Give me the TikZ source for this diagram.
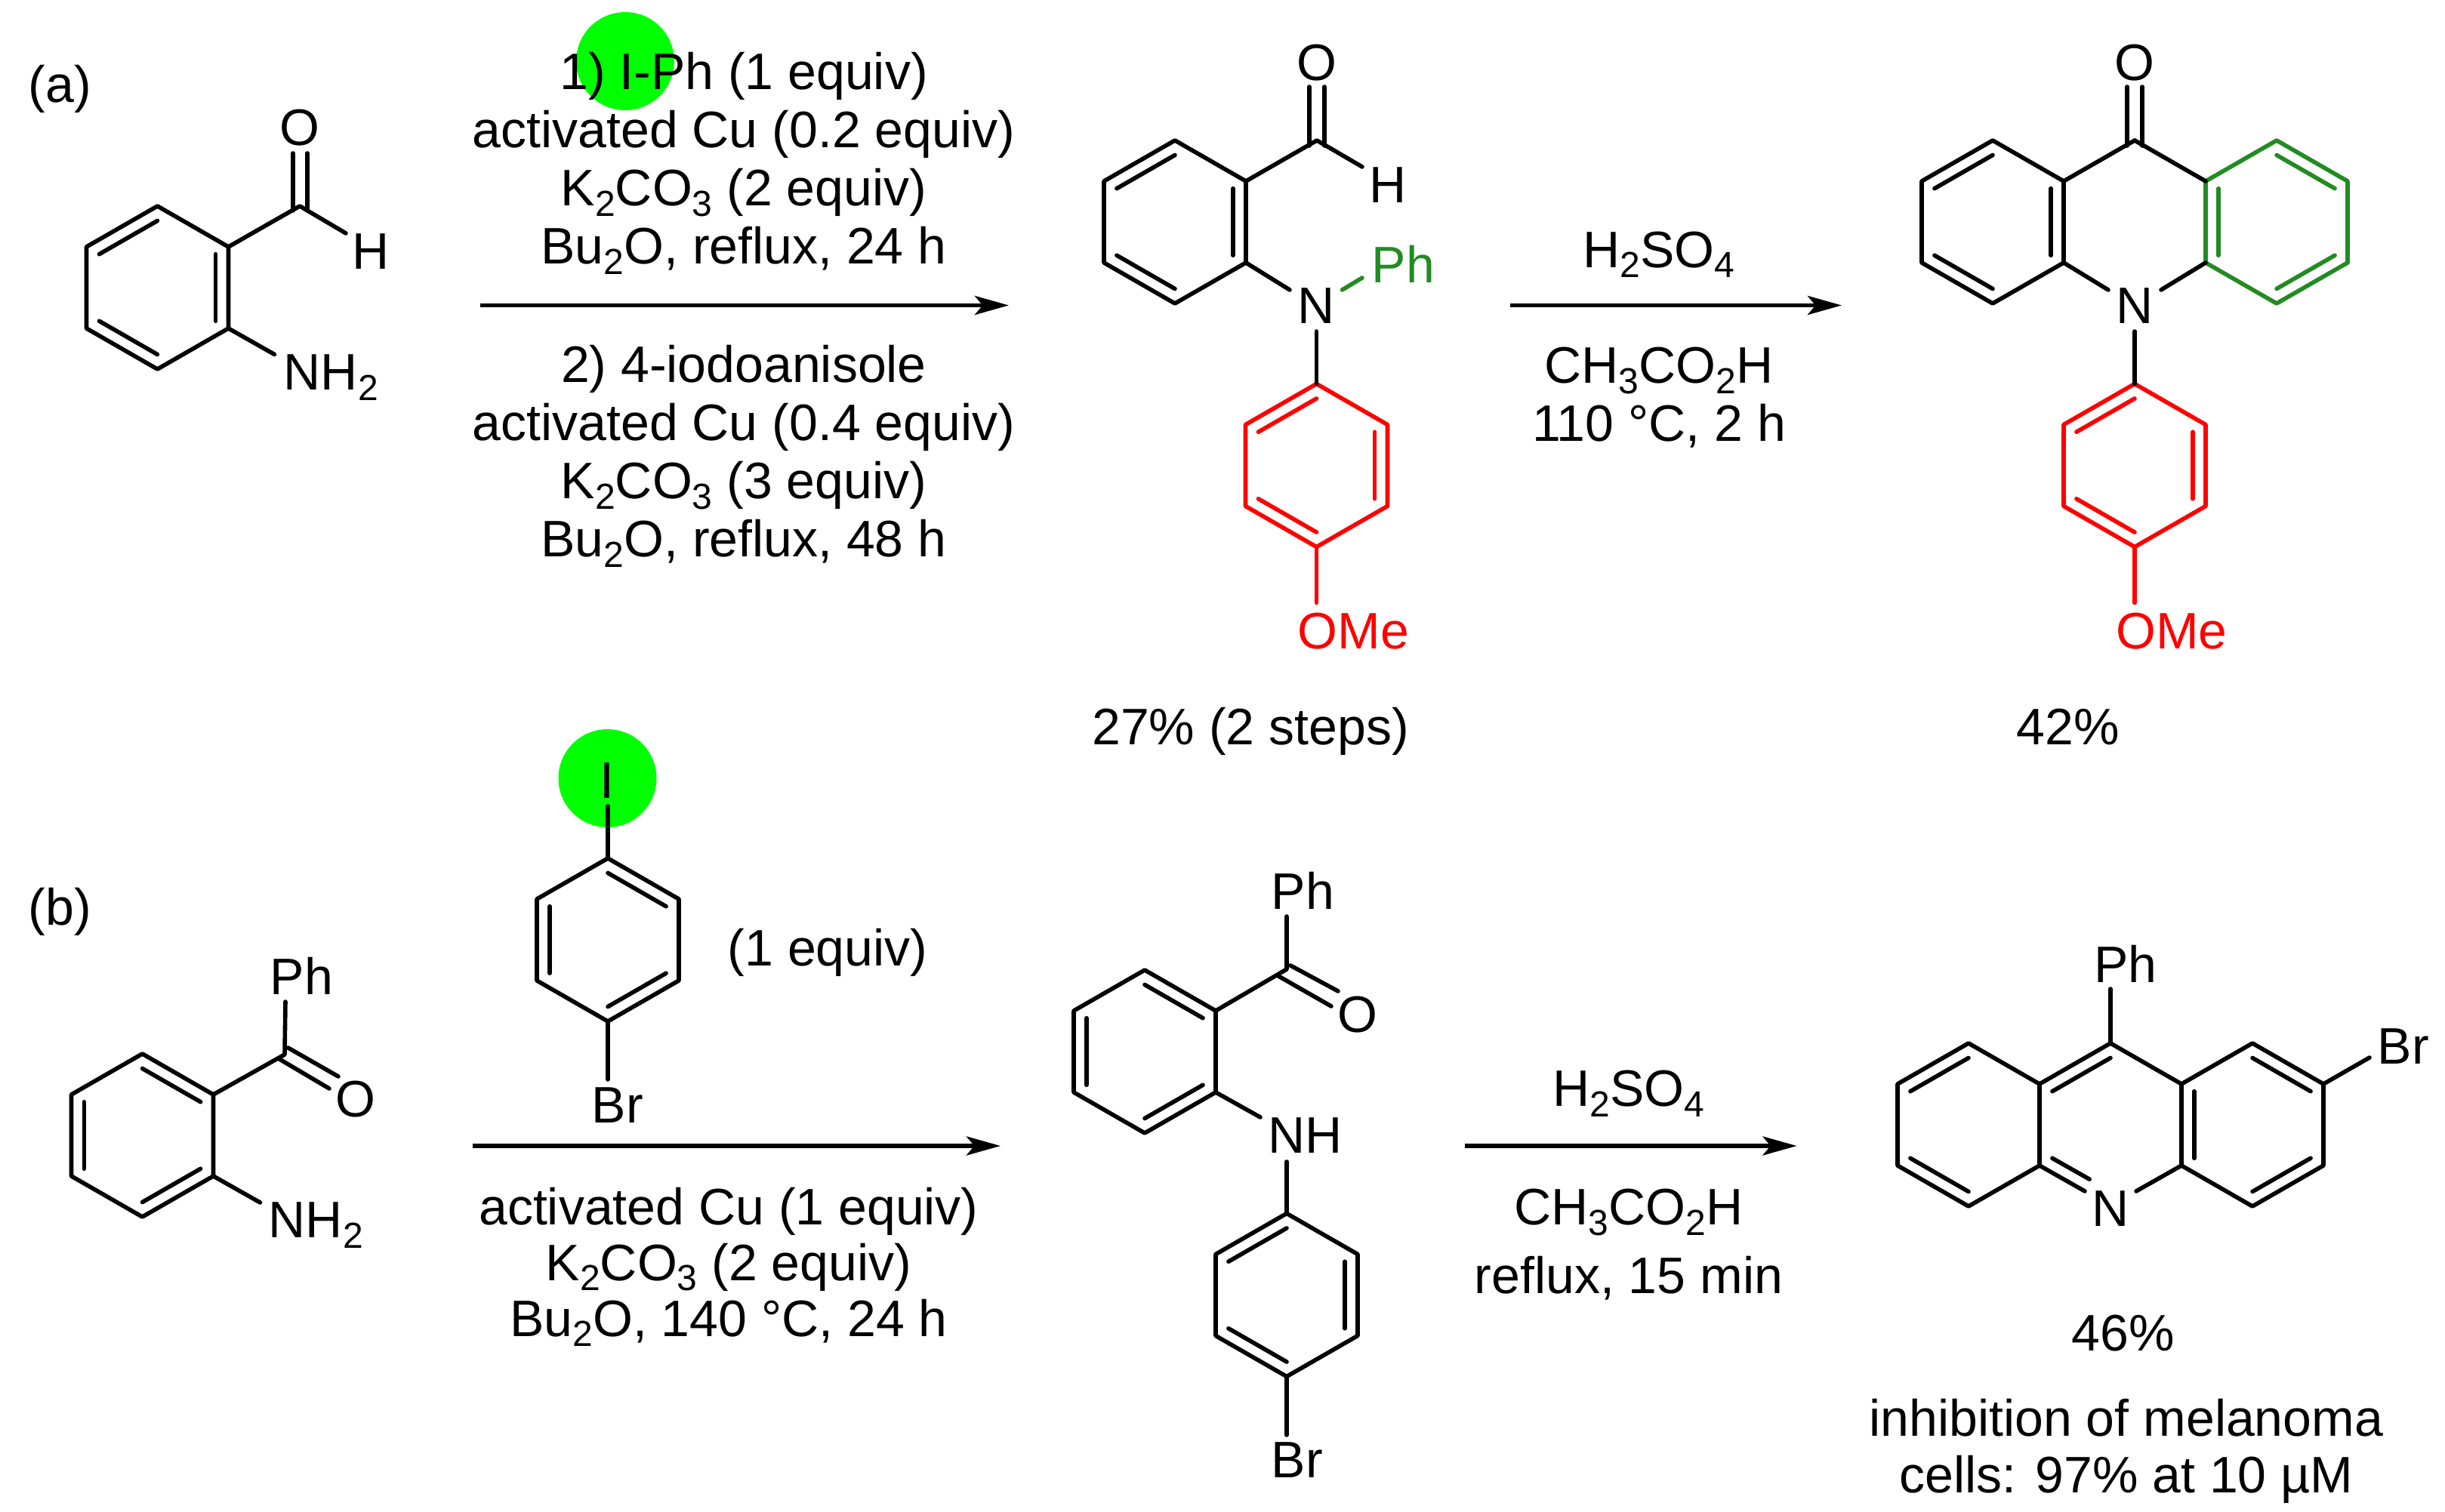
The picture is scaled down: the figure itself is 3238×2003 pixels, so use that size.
\documentclass[tikz,border=0pt]{standalone}
\usepackage{fontspec}
\setmainfont{Liberation Sans}
\usetikzlibrary{arrows.meta,calc}
\definecolor{hlgreen}{RGB}{0,255,0}
\definecolor{phgreen}{RGB}{34,139,34}
\newcommand{\subs}[1]{\raisebox{-3.4pt}{\fontsize{12}{12}\selectfont #1}}
% six ring corners: t ur lr b ll ul, o = centre
\newcommand{\hexring}[3]{%
  \coordinate (#1o) at (#2,#3);
  \coordinate (#1t) at (#2,{#3-108});
  \coordinate (#1ur) at ({#2+94},{#3-54});
  \coordinate (#1lr) at ({#2+94},{#3+54});
  \coordinate (#1b) at (#2,{#3+108});
  \coordinate (#1ll) at ({#2-94},{#3+54});
  \coordinate (#1ul) at ({#2-94},{#3-54});
  \draw[bond] (#1t) -- (#1ur) -- (#1lr) -- (#1b) -- (#1ll) -- (#1ul) -- cycle;
}
\newcommand{\dbl}[3]{\draw[bond] ($(#1)!0.18!(#3)$) -- ($(#2)!0.18!(#3)$);}
\tikzset{
  bond/.style={line width=1.4pt, line cap=round, line join=round},
  rxn/.style={line width=1.4pt, -{Stealth[length=11.25pt, width=6.25pt, inset=2.6pt]}},
  lbl/.style={inner sep=0pt, font=\fontsize{17}{19.25}\selectfont, anchor=base, yshift=-0.4pt},
  lblw/.style={lbl, anchor=base west},
  block/.style={lbl, anchor=north, align=center},
  spot/.style={fill=hlgreen, draw=none, circle, minimum size=32.5pt, inner sep=0pt},
}
\begin{document}
\begin{tikzpicture}[x=0.25pt, y=-0.25pt]
\useasboundingbox (0,0) rectangle (3238,2003);

% highlights
\node[spot] (spota) at (828,81) {};
\node[spot] (spotb) at (804.5,1031) {};

% (a) aminobenzaldehyde
\node[lblw] (laba) at (37,134) {(a)};
\hexring{sa}{208.5}{381}
\dbl{saul}{sat}{sao}
\dbl{saur}{salr}{sao}
\dbl{sall}{sab}{sao}
\coordinate (sac) at (397,273);
\coordinate (sah) at (458,309);
\coordinate (san) at (363.5,469.5);
\node[lbl] (sao1) at (397,191) {O};
\node[lbl] (sah1) at (491,355) {H};
\node[lblw] (san1) at (375,515) {NH\subs{2}};
\draw[bond] (saur) -- (sac) -- (sah);
\draw[bond] (388,203) -- (388,279);
\draw[bond] (407,203) -- (407,279);
\draw[bond] (salr) -- (san);

% (a) reagents
\node[block] (reaga) at (985,67) {1) I-Ph (1 equiv)\\activated Cu (0.2 equiv)\\K\subs{2}CO\subs{3} (2 equiv)\\Bu\subs{2}O, reflux, 24 h};
\node[block] (reagb) at (985,455) {2) 4-iodoanisole\\activated Cu (0.4 equiv)\\K\subs{2}CO\subs{3} (3 equiv)\\Bu\subs{2}O, reflux, 48 h};
\coordinate (arra1) at (636,404.5);
\coordinate (arra2) at (1336,404.5);
\draw[rxn] (arra1) -- (arra2);

% (a) N-aryl aldehyde
\hexring{pa}{1556}{294}
\dbl{paul}{pat}{pao}
\dbl{paur}{palr}{pao}
\dbl{pall}{pab}{pao}
\coordinate (pac) at (1744,186);
\coordinate (pah) at (1804,221);
\coordinate (pan1) at (1708,384);
\coordinate (pan2) at (1777.5,384);
\coordinate (pap) at (1804,368);
\coordinate (pan3) at (1743.5,439);
\node[lbl] (pao1) at (1743.5,105) {O};
\node[lbl] (pah1) at (1838.5,266.5) {H};
\node[lbl] (pan) at (1743.5,427) {N};
\node[lblw, text=phgreen] (paph) at (1816,373) {Ph};
\draw[bond] (paur) -- (pac) -- (pah);
\draw[bond] (1734,115) -- (1734,193);
\draw[bond] (1754,115) -- (1754,193);
\draw[bond] (palr) -- (pan1);
\draw[bond, phgreen] (pan2) -- (pap);
\begin{scope}[red]
\hexring{pr}{1743.5}{616.5}
\dbl{prul}{prt}{pro}
\dbl{prur}{prlr}{pro}
\dbl{prll}{prb}{pro}
\coordinate (prm) at (1743.5,798.5);
\draw[bond] (prb) -- (prm);
\node[lblw, text=red] (prome) at (1718,858) {OMe};
\end{scope}
\draw[bond] (pan3) -- (prt);

% (a) second step
\node[lbl] (acid1) at (2197,352.7) {H\subs{2}SO\subs{4}};
\node[block] (acid2) at (2197,458) {CH\subs{3}CO\subs{2}H\\110 °C, 2 h};
\coordinate (arrb1) at (2000,404.5);
\coordinate (arrb2) at (2439,404.5);
\draw[rxn] (arrb1) -- (arrb2);

% (a) acridone
\hexring{qa}{2639}{294}
\dbl{qaul}{qat}{qao}
\dbl{qaur}{qalr}{qao}
\dbl{qall}{qab}{qao}
\coordinate (qac) at (2827,186);
\coordinate (qan1) at (2792,384);
\coordinate (qan2) at (2862,384);
\coordinate (qan3) at (2827,439);
\node[lbl] (qao1) at (2827,105) {O};
\node[lbl] (qan) at (2827,427) {N};
\draw[bond] (qaur) -- (qac);
\draw[bond] (2817,115) -- (2817,193);
\draw[bond] (2837,115) -- (2837,193);
\draw[bond] (qalr) -- (qan1);
\begin{scope}[phgreen]
\hexring{qg}{3015}{294}
\dbl{qgul}{qgll}{qgo}
\dbl{qgt}{qgur}{qgo}
\dbl{qglr}{qgb}{qgo}
\end{scope}
\draw[bond] (qac) -- (qgul);
\draw[bond] (qan2) -- (qgll);
\begin{scope}[red]
\hexring{qr}{2827}{616.5}
\dbl{qrul}{qrt}{qro}
\dbl{qrur}{qrlr}{qro}
\dbl{qrll}{qrb}{qro}
\coordinate (qrm) at (2827,798.5);
\draw[bond] (qrb) -- (qrm);
\node[lblw, text=red] (qrome) at (2801.5,858) {OMe};
\end{scope}
\draw[bond] (qan3) -- (qrt);

% yields (a)
\node[lbl] (ylda) at (1656,985) {27\% (2 steps)};
\node[lbl] (yldb) at (2739,985) {42\%};

% (b) aminobenzophenone
\node[lblw] (labb) at (37,1224) {(b)};
\hexring{sb}{188.5}{1504}
\dbl{sbt}{sbur}{sbo}
\dbl{sbul}{sbll}{sbo}
\dbl{sblr}{sbb}{sbo}
\coordinate (sbc) at (377,1397);
\coordinate (sbp) at (378,1327);
\coordinate (sbn) at (344.5,1593);
\node[lblw] (sbph) at (357,1316) {Ph};
\node[lbl] (sbo1) at (471,1478) {O};
\node[lblw] (sbn1) at (355,1638) {NH\subs{2}};
\draw[bond] (sbur) -- (sbc) -- (sbp);
\draw[bond] (370,1403) -- (436,1442);
\draw[bond] (381.5,1388) -- (448,1426);
\draw[bond] (sblr) -- (sbn);

% (b) bromo-iodobenzene
\hexring{ib}{805}{1245}
\dbl{ibt}{ibur}{ibo}
\dbl{ibul}{ibll}{ibo}
\dbl{iblr}{ibb}{ibo}
\coordinate (ibi) at (805,1068);
\coordinate (ibr) at (805,1430);
\node[lbl] (ibi1) at (804,1056) {I};
\node[lblw] (ibbr) at (783,1485.5) {Br};
\node[lblw] (ibeq) at (963,1278) {(1 equiv)};
\draw[bond] (ibi) -- (ibt);
\draw[bond] (ibb) -- (ibr);

% (b) reagents
\coordinate (arrc1) at (626,1518);
\coordinate (arrc2) at (1325,1518);
\draw[rxn] (arrc1) -- (arrc2);
\node[block, font=\fontsize{17}{18.5}\selectfont] (reagc) at (965,1570.5) {activated Cu (1 equiv)\\K\subs{2}CO\subs{3} (2 equiv)\\Bu\subs{2}O, 140 °C, 24 h};

% (b) diarylamine
\hexring{pb}{1516}{1393}
\dbl{pbt}{pbur}{pbo}
\dbl{pbul}{pbll}{pbo}
\dbl{pblr}{pbb}{pbo}
\coordinate (pbc) at (1704,1284);
\coordinate (pbp) at (1704,1214);
\coordinate (pbn) at (1669,1480);
\coordinate (pbn2) at (1704,1539);
\coordinate (pbr) at (1704,1901);
\node[lblw] (pbph) at (1683,1202.5) {Ph};
\node[lbl] (pbo1) at (1798,1366) {O};
\node[lblw] (pbnh) at (1679,1526) {NH};
\node[lblw] (pbbr) at (1683,1955.5) {Br};
\draw[bond] (pbur) -- (pbc) -- (pbp);
\draw[bond] (1693,1293) -- (1763,1333);
\draw[bond] (1709,1279) -- (1772,1313);
\draw[bond] (pblr) -- (pbn);
\hexring{pc}{1704}{1715.5}
\dbl{pcul}{pct}{pco}
\dbl{pcur}{pclr}{pco}
\dbl{pcll}{pcb}{pco}
\draw[bond] (pbn2) -- (pct);
\draw[bond] (pcb) -- (pbr);

% (b) second step
\node[lbl] (acid3) at (2157,1464) {H\subs{2}SO\subs{4}};
\node[lbl] (acid4) at (2157,1621) {CH\subs{3}CO\subs{2}H};
\node[lbl] (acid5) at (2157,1712) {reflux, 15 min};
\coordinate (arrd1) at (1940,1518);
\coordinate (arrd2) at (2379.5,1518);
\draw[rxn] (arrd1) -- (arrd2);

% (b) acridine
\hexring{ql}{2607}{1490}
\dbl{qlul}{qlt}{qlo}
\dbl{qlll}{qlb}{qlo}
\hexring{qb}{2983}{1490}
\dbl{qbul}{qbll}{qbo}
\dbl{qbt}{qbur}{qbo}
\dbl{qblr}{qbb}{qbo}
\coordinate (mido) at (2795,1490);
\coordinate (c9) at (2795,1382);
\coordinate (c9p) at (2795,1310);
\coordinate (nl) at (2761,1578);
\coordinate (nr) at (2829,1578);
\coordinate (qbb1) at (3138,1401);
\node[lblw] (c9ph) at (2772.5,1300) {Ph};
\node[lbl] (nacr) at (2795,1623) {N};
\node[lblw] (qbbr) at (3148,1408) {Br};
\draw[bond] (qlur) -- (c9) -- (qbul);
\draw[bond] (c9) -- (c9p);
\dbl{qlur}{c9}{mido}
\draw[bond] (qllr) -- (nl);
\dbl{qllr}{nl}{mido}
\draw[bond] (nr) -- (qbll);
\draw[bond] (qbur) -- (qbb1);

% yield and activity (b)
\node[lbl] (yldc) at (2812,1788) {46\%};
\node[block, font=\fontsize{17}{18.75}\selectfont] (activ) at (2816,1851) {inhibition of melanoma\\cells: 97\% at 10 µM};
\end{tikzpicture}
\end{document}
